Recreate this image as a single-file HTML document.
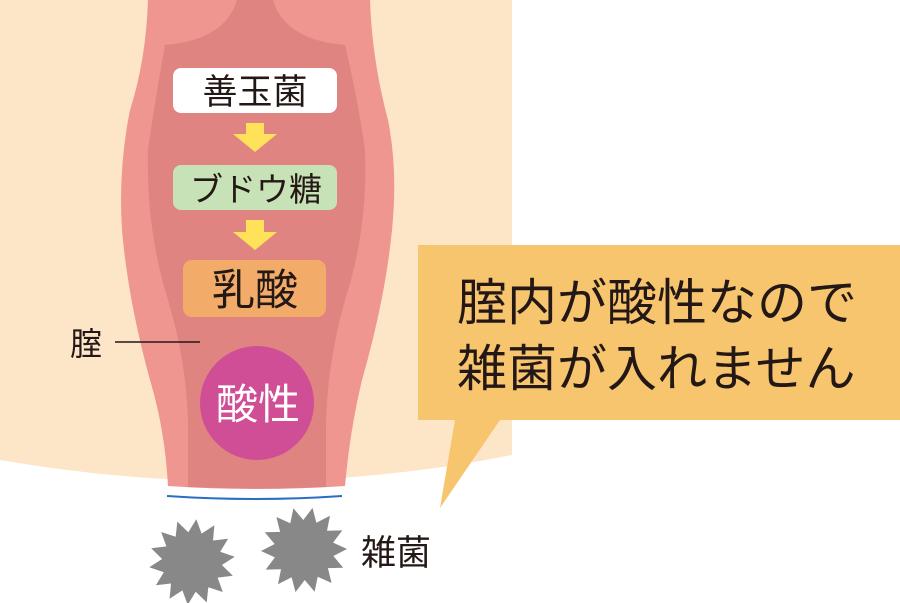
<!DOCTYPE html>
<html><head><meta charset="utf-8"><style>
html,body{margin:0;padding:0;background:#fff;width:900px;height:603px;overflow:hidden}
svg{display:block}
text{font-family:"Liberation Sans","Noto Sans CJK JP",sans-serif}
</style></head><body>
<svg id="s" width="900" height="603" viewBox="0 0 900 603" xmlns="http://www.w3.org/2000/svg">
<path d="M0 0H512V455Q260 505 0 460Z" fill="#fde5c8"/>
<path d="M148 0H370Q372 60 388 120Q398 170 392 230Q385 300 362 380Q350 430 345 486Q256 492 168 486Q165 430 150 380Q128 300 122 230Q118 170 130 110Q146 60 148 0Z" fill="#ef9690"/>
<path d="M237 0H273Q285 40 345 45Q358 100 365 150Q368 230 345 300Q328 360 326 420V487Q256 490 188 487V420Q186 360 168 300Q146 230 148 150Q155 100 165 45Q225 40 237 0Z" fill="#e08482"/>
<rect x="173" y="68" width="164" height="45" rx="8" fill="#fff"/>
<text x="255" y="104" font-size="35" text-anchor="middle" fill="#231815">善玉菌</text>
<polygon points="246,123 264,123 264,134 277,134 255,152 233,134 246,134" fill="#ffe15a"/>
<rect x="173" y="165" width="164" height="45" rx="8" fill="#c8e2b7"/>
<text x="256" y="201" font-size="33" text-anchor="middle" fill="#231815">ブドウ糖</text>
<polygon points="246,220 264,220 264,232 277,232 255,250 233,232 246,232" fill="#ffe15a"/>
<rect x="183" y="260" width="143" height="57" rx="9" fill="#f2ab68"/>
<text x="255" y="305" font-size="43" text-anchor="middle" fill="#231815">乳酸</text>
<circle cx="257" cy="403" r="57" fill="#d04e96"/>
<text x="258" y="419" font-size="42" text-anchor="middle" fill="#fff">酸性</text>
<text x="70" y="355" font-size="32" fill="#231815">腟</text>
<line x1="115" y1="342" x2="200" y2="342" stroke="#231815" stroke-width="1.5"/>
<path d="M167 496Q255 502 342 496" stroke="#2b6cc4" stroke-width="2" fill="none"/>
<g id="stars" fill="#888"></g>
<text x="361" y="565" font-size="35" fill="#231815">雑菌</text>
<path d="M418 245H900V420H500L440 508L455 420H418Z" fill="#f8c56f"/>
<text x="457" y="320" font-size="50" fill="#231815">腟内が酸性なので</text>
<text x="457" y="386" font-size="50" fill="#231815">雑菌が入れません</text>
</svg>
<script>
function star(cx,cy,R,r,n,rot){var p=[];for(var i=0;i<2*n;i++){var a=Math.PI*i/n+rot;var rr=i%2?r:R;p.push((cx+rr*Math.sin(a)).toFixed(1)+","+(cy-rr*Math.cos(a)).toFixed(1));}
var e=document.createElementNS("http://www.w3.org/2000/svg","polygon");e.setAttribute("points",p.join(" "));document.getElementById("stars").appendChild(e);}
star(192,562,43,30,14,0.1);star(304,550,43,30,14,0.2);
</script>
</body></html>
